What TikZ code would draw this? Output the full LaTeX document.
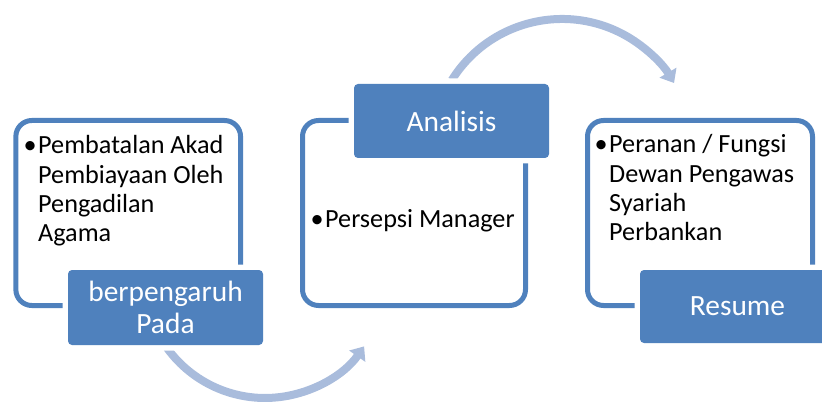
\documentclass[tikz,border=0pt]{standalone}
\usepackage{fontspec}
\setmainfont{Carlito}
\usetikzlibrary{arrows.meta}
\definecolor{accent}{HTML}{4F81BD}
\definecolor{arrowc}{HTML}{A9BCDC}
\newcommand\bodyfont{\fontsize{26.2}{29.2}\selectfont}
\newcommand\labfont{\fontsize{29.4}{32}\selectfont}
\tikzset{
  outline/.style={draw=accent, line width=5pt, rounded corners=16pt, rectangle, inner sep=0pt, minimum height=185pt},
  labelbox/.style={rectangle, fill=accent, rounded corners=4pt, text=white, font=\labfont, align=center,
    minimum width=195pt, inner sep=0pt, preaction={draw=white, line width=11pt}},
  bodytext/.style={anchor=base west, inner sep=0pt, font=\bodyfont, text=black},
  flow/.style={draw=arrowc, line width=8pt, -{Triangle[width=19pt,length=12pt]}}
}
\begin{document}
\begin{tikzpicture}[x=1pt,y=-1pt]
\useasboundingbox (0,0) rectangle (822,406);
% outline boxes
\node[outline, minimum width=224.7pt] (boxA) at (128.2,213) {};
\node[outline, minimum width=223pt] (boxB) at (414,213) {};
\node[outline, minimum width=225pt] (boxC) at (700,213) {};
% connectors
\coordinate (arcAstart) at (167.1,348.1);
\coordinate (arcBstart) at (451.8,80.1);
\draw[flow] (arcAstart) arc[start angle=144, end angle=35, radius=121];
\draw[flow] (arcBstart) arc[start angle=-148, end angle=-30.5, radius=130];
% labels
\node[labelbox, minimum height=75pt] (labA) at (165.5,307.5) {berpengaruh\\Pada};
\node[labelbox, minimum height=74pt] (labB) at (451.5,121) {Analisis};
\node[labelbox, minimum height=73pt] (labC) at (737.5,306.5) {Resume};
% body texts
\node[bodytext] (txtA) at (38,154) {\parbox[t]{210pt}{\raggedright\bodyfont\leavevmode\llap{•\hspace{1.5pt}}Pembatalan Akad\\Pembiayaan Oleh\\Pengadilan\\Agama}};
\node[bodytext] (txtB) at (325,228) {\llap{•\hspace{1.5pt}}Persepsi Manager};
\node[bodytext] (txtC) at (609,153) {\parbox[t]{210pt}{\raggedright\bodyfont\leavevmode\llap{•\hspace{1.5pt}}Peranan / Fungsi\\Dewan Pengawas\\Syariah\\Perbankan}};
\end{tikzpicture}
\end{document}
